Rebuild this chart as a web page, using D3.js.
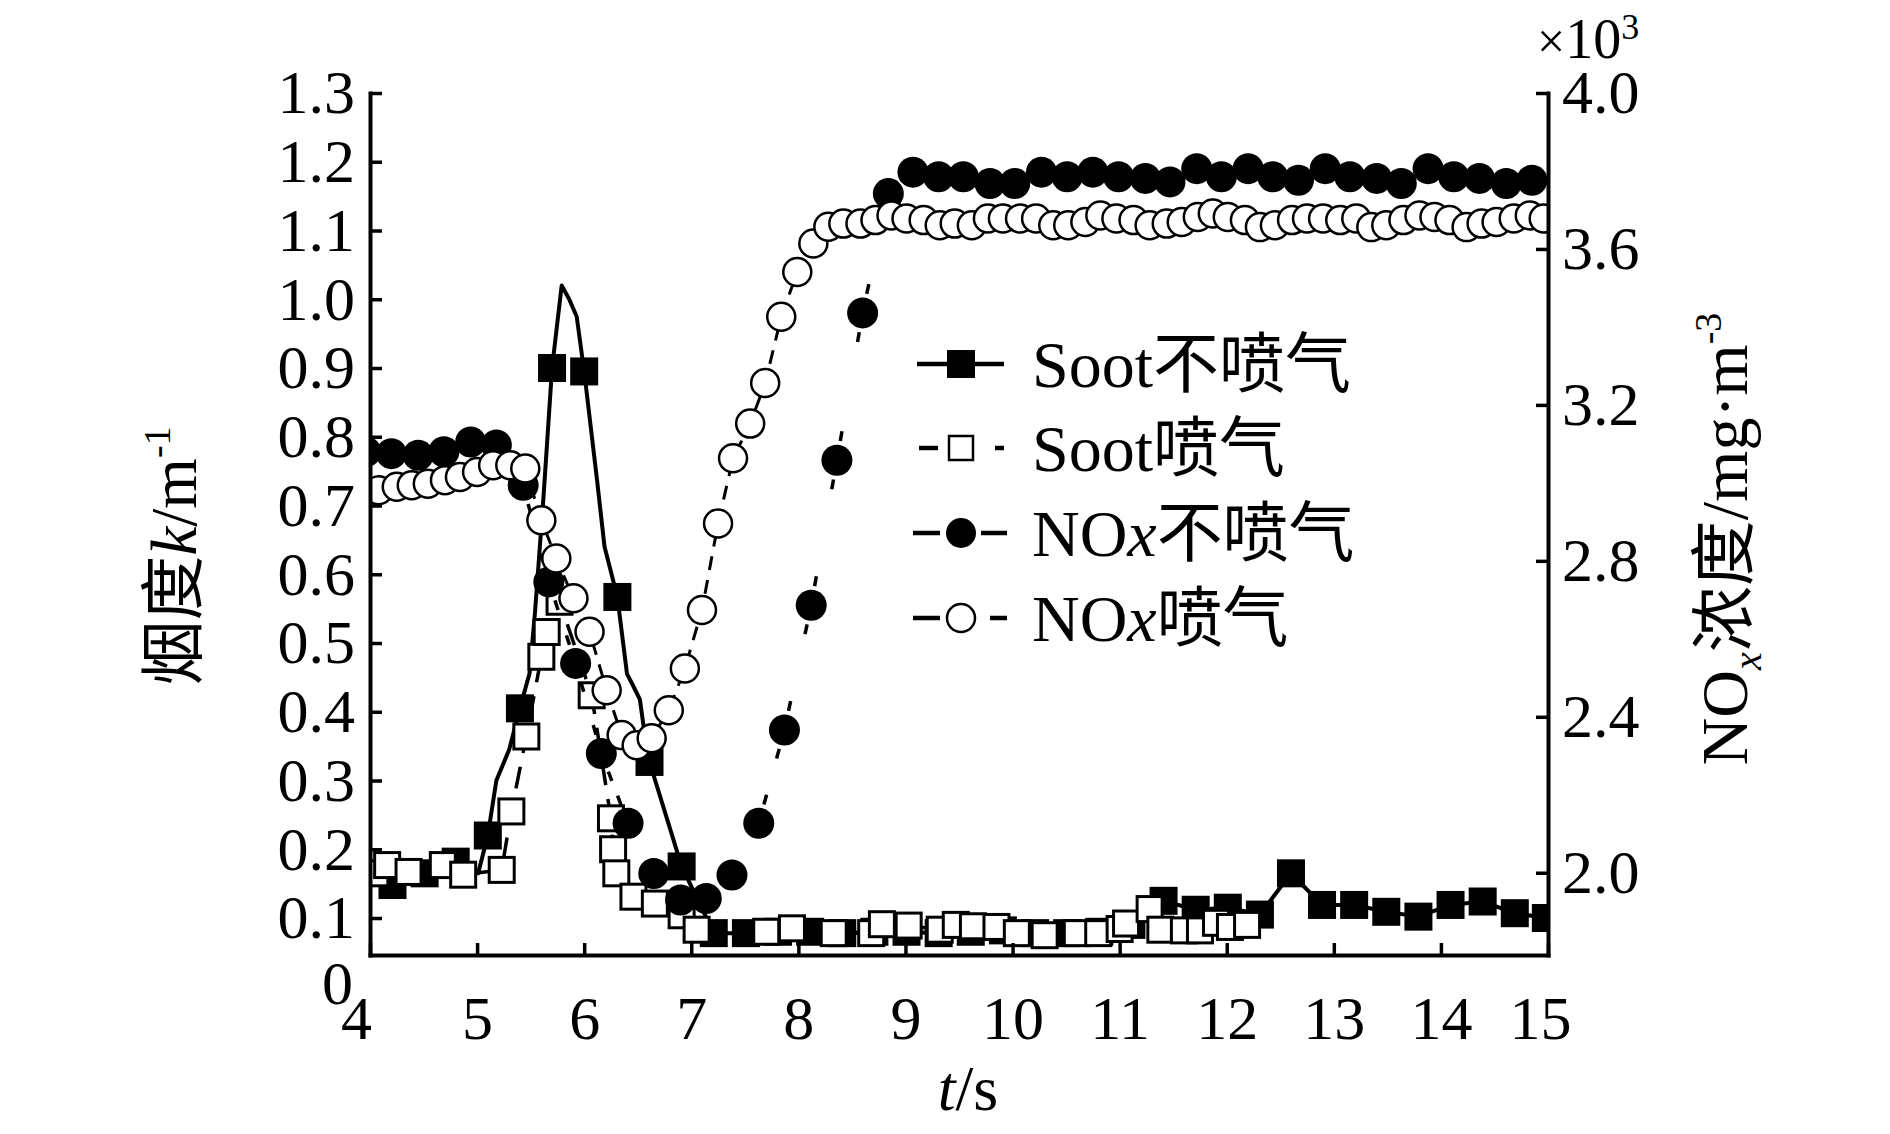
<!DOCTYPE html>
<html lang="zh">
<head>
<meta charset="UTF-8">
<title>Soot / NOx</title>
<script src="https://d3js.org/d3.v7.min.js"></script>
<style>
  body { margin: 0; background: #fff; }
  svg { display: block; }
  text { font-family: "Liberation Serif", "Times New Roman", "Noto Sans CJK SC", serif; fill: #000; }
  .axis text { font-size: 62px; }
  .axis path, .axis line { stroke: #000; }
</style>
</head>
<body>
<svg id="chart" width="1890" height="1134"></svg>
<script>
// ---- data ----
// Soot, no injection (filled squares, solid line)
const sootNoT = [4.21, 4.51, 4.80, 5.10, 5.40, 5.70, 6.00, 6.31, 6.61, 6.91, 7.21, 7.51, 7.81, 8.11, 8.41, 8.71, 9.01, 9.31, 9.61, 9.91, 10.21, 10.51, 10.81, 11.11, 11.41, 11.71, 12.01, 12.31, 12.60, 12.89, 13.19, 13.49, 13.79, 14.09, 14.39, 14.69, 14.98];
const sootNoV = [0.148, 0.165, 0.182, 0.22, 0.405, 0.90, 0.895, 0.567, 0.327, 0.175, 0.078, 0.078, 0.08, 0.08, 0.078, 0.08, 0.08, 0.078, 0.08, 0.082, 0.078, 0.078, 0.08, 0.09, 0.125, 0.112, 0.115, 0.105, 0.165, 0.119, 0.119, 0.109, 0.102, 0.119, 0.124, 0.107, 0.1];
// the solid curve has more points than markers
const sootNoLineT = [4.21, 4.51, 4.80, 5.01, 5.10, 5.18, 5.30, 5.40, 5.49, 5.54, 5.62, 5.70, 5.79, 5.86, 5.93, 6.00, 6.12, 6.19, 6.31, 6.40, 6.45, 6.52, 6.56, 6.61, 6.91, 7.21, 7.51, 7.81, 8.11, 8.41, 8.71, 9.01, 9.31, 9.61, 9.91, 10.21, 10.51, 10.81, 11.11, 11.41, 11.71, 12.01, 12.31, 12.60, 12.89, 13.19, 13.49, 13.79, 14.09, 14.39, 14.69, 14.98];
const sootNoLineV = [0.148, 0.165, 0.182, 0.165, 0.22, 0.30, 0.345, 0.405, 0.456, 0.543, 0.712, 0.90, 1.02, 1.00, 0.975, 0.895, 0.737, 0.64, 0.567, 0.455, 0.44, 0.418, 0.373, 0.327, 0.175, 0.078, 0.078, 0.08, 0.08, 0.078, 0.08, 0.08, 0.078, 0.08, 0.082, 0.078, 0.078, 0.08, 0.09, 0.125, 0.112, 0.115, 0.105, 0.165, 0.119, 0.119, 0.109, 0.102, 0.119, 0.124, 0.107, 0.1];

// Soot, with injection (open squares, dashed)
const sootYesT = [4.05, 4.16, 4.36, 4.68, 4.87, 5.23, 5.32, 5.46, 5.60, 5.65, 5.77, 6.07, 6.25, 6.27, 6.30, 6.46, 6.66, 6.91, 7.05, 7.70, 7.94, 8.33, 8.68, 8.78, 9.03, 9.32, 9.47, 9.63, 9.85, 10.04, 10.30, 10.60, 10.80, 11.00, 11.06, 11.28, 11.38, 11.60, 11.75, 11.90, 12.03, 12.19];
const sootYesV = [0.165, 0.177, 0.167, 0.177, 0.163, 0.17, 0.255, 0.364, 0.48, 0.516, 0.56, 0.424, 0.245, 0.20, 0.165, 0.131, 0.121, 0.104, 0.083, 0.08, 0.085, 0.078, 0.078, 0.091, 0.089, 0.083, 0.09, 0.088, 0.087, 0.078, 0.075, 0.078, 0.078, 0.084, 0.092, 0.113, 0.083, 0.082, 0.082, 0.093, 0.087, 0.09];

// NOx, no injection (filled circles), x10^3 mg/m3
const noxNoT = [3.96, 4.20, 4.45, 4.69, 4.94, 5.18, 5.43, 5.67, 5.92, 6.16, 6.41, 6.65, 6.90, 7.14, 7.38, 7.63, 7.87, 8.12, 8.36, 8.60, 8.84, 9.07, 9.31, 9.54, 9.79, 10.02, 10.27, 10.51, 10.75, 10.99, 11.24, 11.47, 11.72, 11.95, 12.20, 12.43, 12.67, 12.92, 13.15, 13.40, 13.63, 13.88, 14.12, 14.36, 14.61, 14.85];
const noxNoV = [3.08, 3.075, 3.071, 3.08, 3.105, 3.097, 2.994, 2.746, 2.537, 2.306, 2.127, 1.998, 1.930, 1.934, 1.994, 2.127, 2.366, 2.686, 3.058, 3.436, 3.742, 3.797, 3.785, 3.785, 3.768, 3.768, 3.797, 3.785, 3.797, 3.785, 3.781, 3.772, 3.806, 3.785, 3.806, 3.785, 3.776, 3.806, 3.785, 3.781, 3.768, 3.806, 3.785, 3.781, 3.768, 3.776];

// NOx, with injection (open circles)
const noxYesT = [4.08, 4.25, 4.39, 4.54, 4.70, 4.84, 5.00, 5.15, 5.31, 5.45, 5.60, 5.74, 5.90, 6.05, 6.21, 6.35, 6.49, 6.63, 6.79, 6.94, 7.10, 7.25, 7.39, 7.55, 7.69, 7.84, 7.99, 8.14, 8.28, 8.42, 8.58, 8.72, 8.87, 9.01, 9.17, 9.32, 9.46, 9.62, 9.77, 9.91, 10.07, 10.22, 10.38, 10.52, 10.68, 10.82, 10.97, 11.13, 11.28, 11.44, 11.58, 11.73, 11.87, 12.01, 12.17, 12.31, 12.45, 12.61, 12.75, 12.90, 13.06, 13.21, 13.35, 13.49, 13.65, 13.80, 13.94, 14.08, 14.24, 14.38, 14.52, 14.68, 14.83, 14.96];
const noxYesV = [2.981, 2.990, 2.994, 2.998, 3.007, 3.015, 3.028, 3.045, 3.045, 3.037, 2.904, 2.806, 2.704, 2.618, 2.468, 2.353, 2.327, 2.345, 2.417, 2.524, 2.674, 2.896, 3.063, 3.152, 3.256, 3.426, 3.541, 3.614, 3.657, 3.665, 3.665, 3.674, 3.686, 3.678, 3.674, 3.661, 3.665, 3.661, 3.678, 3.678, 3.678, 3.678, 3.661, 3.661, 3.669, 3.686, 3.678, 3.674, 3.661, 3.665, 3.669, 3.682, 3.691, 3.682, 3.674, 3.656, 3.661, 3.674, 3.678, 3.678, 3.674, 3.678, 3.656, 3.661, 3.674, 3.686, 3.682, 3.674, 3.656, 3.665, 3.669, 3.678, 3.686, 3.678];

const xTicks = [4, 5, 6, 7, 8, 9, 10, 11, 12, 13, 14, 15];
const leftTicks = [0.1, 0.2, 0.3, 0.4, 0.5, 0.6, 0.7, 0.8, 0.9, 1.0, 1.1, 1.2, 1.3];
const rightTicks = [2.0, 2.4, 2.8, 3.2, 3.6, 4.0];

// ---- chart ----
const svg = d3.select('#chart');
const pL = 370, pR = 1548, pT = 93, pB = 955;

const x = d3.scaleLinear().domain([4, 15]).range([pL, pR]);
const yL = d3.scaleLinear().domain([0.0462, 1.3]).range([pB, pT]);
const yR = d3.scaleLinear().domain([1.789, 4.0]).range([pB, pT]);

const zip = (ts, vs) => ts.map((t, i) => [t, vs[i]]);

svg.append('clipPath').attr('id', 'plotclip')
  .append('rect').attr('x', pL).attr('y', pT)
  .attr('width', pR - pL).attr('height', pB - pT);

const plot = svg.append('g').attr('clip-path', 'url(#plotclip)');

const lineL = d3.line().x(d => x(d[0])).y(d => yL(d[1]));
const lineR = d3.line().x(d => x(d[0])).y(d => yR(d[1]));

// soot, no injection
plot.append('path')
  .datum(zip(sootNoLineT, sootNoLineV))
  .attr('d', lineL)
  .attr('fill', 'none').attr('stroke', '#000').attr('stroke-width', 4)
  .attr('stroke-linejoin', 'round');

const sq = 28;
plot.selectAll('.sqf').data(zip(sootNoT, sootNoV)).enter()
  .append('rect')
  .attr('x', d => x(d[0]) - sq / 2)
  .attr('y', d => yL(d[1]) - sq / 2)
  .attr('width', sq).attr('height', sq)
  .attr('fill', '#000');

// soot, with injection
plot.append('path')
  .datum(zip(sootYesT, sootYesV))
  .attr('d', lineL)
  .attr('fill', 'none').attr('stroke', '#000').attr('stroke-width', 3.5)
  .attr('stroke-dasharray', '22,14');

const sqo = 25;
plot.selectAll('.sqo').data(zip(sootYesT, sootYesV)).enter()
  .append('rect')
  .attr('x', d => x(d[0]) - sqo / 2)
  .attr('y', d => yL(d[1]) - sqo / 2)
  .attr('width', sqo).attr('height', sqo)
  .attr('fill', '#fff').attr('stroke', '#000').attr('stroke-width', 3);

// NOx, no injection: dashes only show next to each symbol
const rF = 15.5;
const noxNo = zip(noxNoT, noxNoV);
d3.pairs(noxNo).forEach(([a, b]) => {
  const x1 = x(a[0]), y1 = yR(a[1]), x2 = x(b[0]), y2 = yR(b[1]);
  const len = Math.hypot(x2 - x1, y2 - y1);
  const g0 = rF + 4, g1 = rF + 14;
  if (len < 2 * g1 + 4) return;
  const ux = (x2 - x1) / len, uy = (y2 - y1) / len;
  [[g0, g1], [len - g1, len - g0]].forEach(([s, e]) => {
    plot.append('line')
      .attr('x1', x1 + ux * s).attr('y1', y1 + uy * s)
      .attr('x2', x1 + ux * e).attr('y2', y1 + uy * e)
      .attr('stroke', '#000').attr('stroke-width', 3.5);
  });
});

plot.selectAll('.cf').data(noxNo).enter()
  .append('circle')
  .attr('cx', d => x(d[0])).attr('cy', d => yR(d[1]))
  .attr('r', rF).attr('fill', '#000');

// NOx, with injection
plot.append('path')
  .datum(zip(noxYesT, noxYesV))
  .attr('d', lineR)
  .attr('fill', 'none').attr('stroke', '#000').attr('stroke-width', 3)
  .attr('stroke-dasharray', '14,10');

plot.selectAll('.co').data(zip(noxYesT, noxYesV)).enter()
  .append('circle')
  .attr('cx', d => x(d[0])).attr('cy', d => yR(d[1]))
  .attr('r', 14).attr('fill', '#fff')
  .attr('stroke', '#000').attr('stroke-width', 2.5);

// ---- axes ----
const gx = svg.append('g').attr('class', 'axis')
  .attr('transform', `translate(0,${pB})`)
  .call(d3.axisBottom(x).tickValues(xTicks).tickFormat(d3.format('d'))
    .tickSizeInner(-12).tickSizeOuter(0).tickPadding(40));
gx.selectAll('text').filter(d => d === 4).attr('dx', -14);
gx.selectAll('text').filter(d => d === 15).attr('dx', -8);

const gl = svg.append('g').attr('class', 'axis')
  .attr('transform', `translate(${pL},0)`)
  .call(d3.axisLeft(yL).tickValues(leftTicks).tickFormat(d3.format('.1f'))
    .tickSizeInner(-12).tickSizeOuter(0).tickPadding(15));
// the stray "0" label below the axis corner
gl.append('text')
  .attr('x', -17).attr('y', yL(0)).attr('dy', '0.28em')
  .attr('text-anchor', 'end').text('0');

const gr = svg.append('g').attr('class', 'axis')
  .attr('transform', `translate(${pR},0)`)
  .call(d3.axisRight(yR).tickValues(rightTicks).tickFormat(d3.format('.1f'))
    .tickSizeInner(-12).tickSizeOuter(0).tickPadding(14));

svg.selectAll('.axis .domain').attr('stroke-width', 4).attr('stroke-linecap', 'square');
svg.selectAll('.axis .tick line').attr('stroke-width', 3.5);

// ---- titles ----
svg.append('text')
  .attr('x', 968).attr('y', 1110)
  .attr('text-anchor', 'middle').attr('font-size', 64)
  .call(t => {
    t.append('tspan').attr('font-style', 'italic').text('t');
    t.append('tspan').text('/s');
  });

svg.append('text')
  .attr('transform', 'translate(196,556) rotate(-90)')
  .attr('text-anchor', 'middle').attr('font-size', 65)
  .call(t => {
    t.append('tspan').text('烟度');
    t.append('tspan').attr('font-style', 'italic').text('k');
    t.append('tspan').text('/m');
    t.append('tspan').attr('font-size', 38).attr('dy', -26).text('-1');
  });

svg.append('text')
  .attr('transform', 'translate(1747,539) rotate(-90)')
  .attr('text-anchor', 'middle').attr('font-size', 66)
  .call(t => {
    t.append('tspan').text('NO');
    t.append('tspan').attr('font-style', 'italic').attr('font-size', 40).attr('dy', 14).text('x');
    t.append('tspan').attr('dy', -14).text('浓度/mg·m');
    t.append('tspan').attr('font-size', 38).attr('dy', -26).text('-3');
  });

svg.append('text')
  .attr('x', 1537).attr('y', 58)
  .call(t => {
    t.append('tspan').attr('font-size', 50).text('×');
    t.append('tspan').attr('font-size', 56).text('10');
    t.append('tspan').attr('font-size', 36).attr('dy', -19).text('3');
  });

// ---- legend ----
const legend = svg.append('g');
const legendRows = [
  { label: ['Soot', null, '不喷气'], mark: 'sqf', dash: null },
  { label: ['Soot', null, '喷气'], mark: 'sqo', dash: [[919, 938], [995, 1004]] },
  { label: ['NO', 'x', '不喷气'], mark: 'cf', dash: [[913, 940], [981, 1007]] },
  { label: ['NO', 'x', '喷气'], mark: 'co', dash: [[913, 940], [990, 1007]] }
];
const rowY = [364, 448, 533, 618];
legendRows.forEach((row, i) => {
  const y = rowY[i];
  const g = legend.append('g');
  if (row.dash === null) {
    g.append('line').attr('x1', 917).attr('x2', 1004).attr('y1', y).attr('y2', y)
      .attr('stroke', '#000').attr('stroke-width', 4.5);
  } else {
    row.dash.forEach(([a, b]) => {
      g.append('line').attr('x1', a).attr('x2', b).attr('y1', y).attr('y2', y)
        .attr('stroke', '#000').attr('stroke-width', 4.5);
    });
  }
  const cx = 961;
  if (row.mark === 'sqf') {
    g.append('rect').attr('x', cx - 14).attr('y', y - 14).attr('width', 28).attr('height', 28).attr('fill', '#000');
  } else if (row.mark === 'sqo') {
    g.append('rect').attr('x', cx - 12).attr('y', y - 12).attr('width', 24).attr('height', 24)
      .attr('fill', '#fff').attr('stroke', '#000').attr('stroke-width', 2.5);
  } else if (row.mark === 'cf') {
    g.append('circle').attr('cx', cx).attr('cy', y).attr('r', 15).attr('fill', '#000');
  } else {
    g.append('circle').attr('cx', cx).attr('cy', y).attr('r', 14)
      .attr('fill', '#fff').attr('stroke', '#000').attr('stroke-width', 2.5);
  }
  const t = g.append('text').attr('x', 1032).attr('y', y + 23).attr('font-size', 66);
  t.append('tspan').text(row.label[0]);
  if (row.label[1]) t.append('tspan').attr('font-style', 'italic').text(row.label[1]);
  t.append('tspan').text(row.label[2]);
});
</script>
</body>
</html>
